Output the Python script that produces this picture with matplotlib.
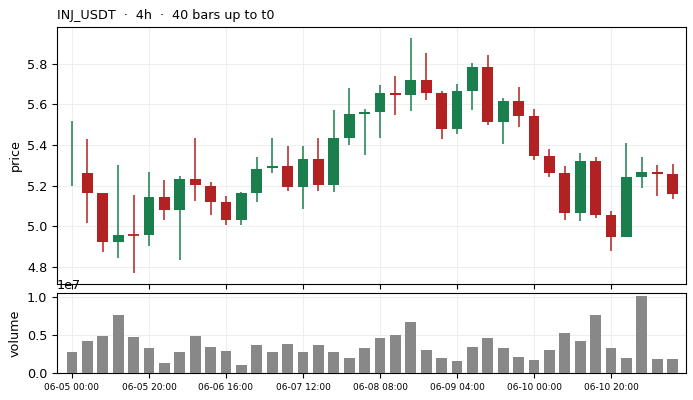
import numpy as np
import pandas as pd
from matplotlib import pyplot as plt

# INJ_USDT 4h candles
opens = [5.196, 5.260, 5.163, 4.922, 4.958, 4.956, 5.146, 5.079, 5.230, 5.200,
         5.117, 5.030, 5.166, 5.286, 5.294, 5.192, 5.329, 5.202, 5.434, 5.552,
         5.562, 5.654, 5.646, 5.718, 5.654, 5.478, 5.665, 5.782, 5.513, 5.614,
         5.541, 5.345, 5.260, 5.064, 5.319, 5.053, 4.946, 5.242, 5.265, 5.255]
highs = [5.516, 5.427, 5.165, 5.302, 5.155, 5.268, 5.229, 5.245, 5.432, 5.219,
         5.150, 5.169, 5.339, 5.432, 5.396, 5.396, 5.432, 5.570, 5.678, 5.575,
         5.693, 5.741, 5.928, 5.851, 5.664, 5.701, 5.805, 5.841, 5.633, 5.687,
         5.578, 5.381, 5.294, 5.362, 5.339, 5.076, 5.411, 5.339, 5.299, 5.307]
lows = [5.196, 5.017, 4.874, 4.844, 4.770, 4.903, 5.032, 4.836, 5.125, 5.056,
        5.007, 5.007, 5.119, 5.263, 5.174, 5.086, 5.174, 5.169, 5.401, 5.352,
        5.435, 5.549, 5.568, 5.623, 5.431, 5.455, 5.570, 5.500, 5.406, 5.490,
        5.327, 5.243, 5.032, 5.027, 5.041, 4.879, 4.946, 5.189, 5.150, 5.135]
closes = [5.196, 5.163, 4.922, 4.959, 4.955, 5.146, 5.079, 5.230, 5.202, 5.119,
          5.030, 5.166, 5.284, 5.294, 5.192, 5.329, 5.202, 5.432, 5.550, 5.560,
          5.654, 5.646, 5.718, 5.655, 5.478, 5.664, 5.782, 5.513, 5.614, 5.542,
          5.345, 5.261, 5.064, 5.319, 5.055, 4.946, 5.240, 5.265, 5.255, 5.158]
volumes = [0.270, 0.413, 0.487, 0.761, 0.474, 0.330, 0.135, 0.270, 0.487, 0.343,
           0.291, 0.109, 0.370, 0.270, 0.383, 0.270, 0.370, 0.270, 0.200, 0.330,
           0.461, 0.500, 0.670, 0.304, 0.200, 0.161, 0.343, 0.461, 0.330, 0.213,
           0.174, 0.304, 0.526, 0.422, 0.761, 0.330, 0.200, 1.009, 0.187, 0.187]
volumes = [v * 1e7 for v in volumes]

times = pd.date_range("2024-06-05 00:00", periods=40, freq="4h")

up_color = "#1b7f4d"
down_color = "#b22222"

plt.rcParams["font.size"] = 9.2

fig = plt.figure(figsize=(6.93, 4.0), dpi=100)
ax = fig.add_axes([0.0823, 0.29, 0.9077, 0.6425])
axv = fig.add_axes([0.0823, 0.0675, 0.9077, 0.2], sharex=ax)

x = np.arange(len(opens))
o = np.array(opens)
c = np.array(closes)
colors = [up_color if cc >= oo else down_color for oo, cc in zip(o, c)]

ax.vlines(x, lows, highs, colors=colors, linewidth=1.1, zorder=2)
ax.bar(x, np.abs(c - o), bottom=np.minimum(o, c), width=0.7, color=colors,
       linewidth=0, zorder=3)
# tiny-body candle drawn as a flat line
for i in range(len(x)):
    if abs(c[i] - o[i]) < 0.004 and i > 0:
        ax.hlines(o[i], x[i] - 0.35, x[i] + 0.35, colors=colors[i], linewidth=1.3, zorder=3)

ax.set_ylim(4.716, 5.98)
ax.set_xlim(-0.97, 39.87)
ax.set_ylabel("price")
ax.grid(True, color="#eeeeee", linewidth=0.8)
ax.set_axisbelow(True)
ax.tick_params(labelbottom=False)
ax.set_title("INJ_USDT  \u00b7  4h  \u00b7  40 bars up to t0", loc="left", fontsize=9.2)

axv.bar(x, volumes, width=0.7, color="#888888", zorder=3)
axv.set_ylim(0, 1.048e7)
axv.set_yticks([0, 0.5e7, 1.0e7])
axv.set_ylabel("volume")
axv.grid(True, color="#eeeeee", linewidth=0.8)
axv.set_axisbelow(True)

tick_pos = x[::5]
axv.set_xticks(tick_pos)
axv.set_xticklabels([times[i].strftime("%m-%d %H:%M") for i in tick_pos], fontsize=6.5)

fig.savefig("out.png", dpi=100)
